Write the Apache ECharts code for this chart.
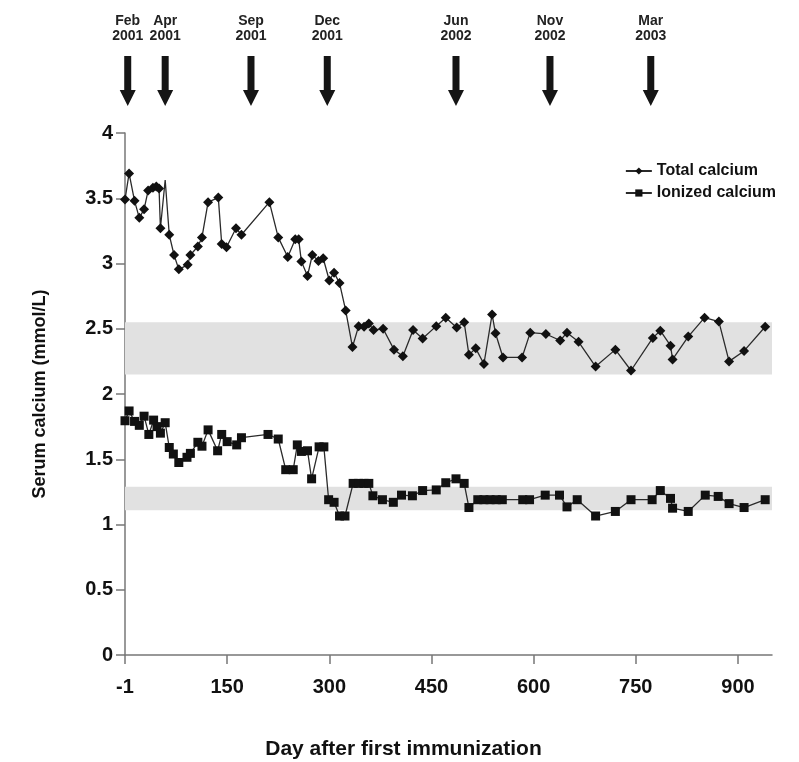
<!DOCTYPE html>
<html><head><meta charset="utf-8">
<script src="https://cdn.jsdelivr.net/npm/echarts@6/dist/echarts.min.js"></script>
<style>html,body{margin:0;padding:0;background:#fff}#c{width:799px;height:762px}</style>
</head><body><div id="c"></div>
<script>
// Total calcium (mmol/L)
const totalDays = [0,6,14,21,28,34,41,46,50,52,59,65,72,79,92,96,107,113,122,137,142,149,163,171,212,225,239,250,255,259,268,275,284,291,300,307,315,324,334,343,351,358,365,379,395,408,423,437,457,471,487,498,505,515,527,539,544,555,583,595,618,639,649,666,691,720,743,775,786,801,804,827,851,872,887,909,940];
const totalValues = [3.49,3.69,3.48,3.35,3.415,3.56,3.58,3.59,3.575,3.27,3.64,3.22,3.065,2.955,2.99,3.065,3.13,3.2,3.47,3.505,3.15,3.125,3.27,3.22,3.47,3.2,3.05,3.185,3.185,3.015,2.905,3.065,3.02,3.04,2.87,2.93,2.85,2.64,2.36,2.52,2.515,2.54,2.49,2.50,2.34,2.29,2.49,2.425,2.52,2.585,2.51,2.55,2.30,2.35,2.23,2.61,2.465,2.28,2.28,2.47,2.46,2.41,2.47,2.40,2.21,2.34,2.18,2.43,2.485,2.37,2.265,2.44,2.585,2.555,2.25,2.33,2.515];
const totalNoMarkerDays = [59];
// Ionized calcium (mmol/L)
const ionDays = [0,6,14,21,28,35,42,47,52,59,65,71,79,91,96,107,113,122,136,142,150,164,171,210,225,236,247,253,259,268,274,285,292,299,307,315,323,335,343,351,358,364,378,394,406,422,437,457,471,486,498,505,518,527,536,545,554,584,594,617,638,649,664,691,720,743,774,786,801,804,827,852,871,887,909,940];
const ionValues = [1.795,1.87,1.79,1.76,1.83,1.69,1.80,1.75,1.70,1.78,1.59,1.54,1.475,1.515,1.545,1.63,1.60,1.725,1.565,1.69,1.635,1.61,1.665,1.69,1.655,1.42,1.42,1.61,1.56,1.565,1.35,1.595,1.595,1.19,1.17,1.065,1.065,1.315,1.315,1.315,1.315,1.22,1.19,1.17,1.225,1.22,1.26,1.265,1.32,1.35,1.315,1.13,1.19,1.19,1.19,1.19,1.19,1.19,1.19,1.225,1.225,1.135,1.19,1.065,1.10,1.19,1.19,1.26,1.20,1.125,1.10,1.225,1.215,1.16,1.13,1.19];
// Normal ranges
const totalRange = [2.15, 2.55];
const ionRange = [1.11, 1.29];
// Immunization markers
const arrowDays = [4, 59, 185, 297, 486, 624, 772];
const arrowLabels = ['Feb\n2001','Apr\n2001','Sep\n2001','Dec\n2001','Jun\n2002','Nov\n2002','Mar\n2003'];
// Axis ticks
const xMin = 0, xMax = 950;
const xTicks = [0, 150, 300, 450, 600, 750, 900];
const xTickLabels = ['-1', '150', '300', '450', '600', '750', '900'];
const yTicks = [0, 0.5, 1, 1.5, 2, 2.5, 3, 3.5, 4];

const FONT = "'Liberation Sans', Arial, sans-serif";
const chart = echarts.init(document.getElementById('c'), null, {renderer: 'canvas'});

const totalData = totalDays.map((d, i) => totalNoMarkerDays.includes(d)
  ? {value: [d, totalValues[i]], symbolSize: 0}
  : [d, totalValues[i]]);
const ionData = ionDays.map((d, i) => [d, ionValues[i]]);
const arrowData = arrowDays.map((d, i) => ({value: [d, 0.5], label: {formatter: arrowLabels[i]}}));

chart.setOption({
  backgroundColor: '#fff',
  animation: false,
  grid: [
    {left: 125, right: 27, top: 133, bottom: 107, containLabel: false, outerBoundsMode: 'none'},
    {left: 125, right: 27, top: 56, height: 50, containLabel: false, outerBoundsMode: 'none'}
  ],
  xAxis: [{
    type: 'value', min: xMin, max: xMax, interval: 150,
    gridIndex: 0,
    name: 'Day after first immunization',
    nameLocation: 'middle', nameGap: 84,
    nameTextStyle: {fontFamily: FONT, fontWeight: 'bold', fontSize: 21, color: '#111', padding: [0, 90, 0, 0]},
    axisLine: {show: true, onZero: false, lineStyle: {color: '#777', width: 1.5}},
    axisTick: {show: true, length: 9, customValues: xTicks, lineStyle: {color: '#777', width: 1.5}},
    axisLabel: {fontFamily: FONT, fontWeight: 'bold', fontSize: 20, color: '#111', margin: 22,
      customValues: xTicks,
      formatter: v => xTickLabels[xTicks.indexOf(v)] ?? ''},
    splitLine: {show: false}
  }, {
    type: 'value', min: xMin, max: xMax, gridIndex: 1, show: false
  }],
  yAxis: [{
    type: 'value', min: yTicks[0], max: yTicks[yTicks.length - 1], interval: 0.5,
    gridIndex: 0,
    name: 'Serum calcium (mmol/L)',
    nameLocation: 'middle', nameGap: 76,
    nameTextStyle: {fontFamily: FONT, fontWeight: 'bold', fontSize: 18, color: '#111'},
    axisLine: {show: true, lineStyle: {color: '#777', width: 1.5}},
    axisTick: {show: true, length: 9, lineStyle: {color: '#777', width: 1.5}},
    axisLabel: {fontFamily: FONT, fontWeight: 'bold', fontSize: 20, color: '#111', margin: 12},
    splitLine: {show: false}
  }, {
    type: 'value', min: 0, max: 1, gridIndex: 1, show: false
  }],
  legend: {
    orient: 'vertical', right: 18, top: 158, itemGap: 6,
    itemWidth: 26, itemHeight: 9,
    textStyle: {fontFamily: FONT, fontWeight: 'bold', fontSize: 16, color: '#111'},
    data: ['Total calcium', 'Ionized calcium']
  },
  series: [
    {
      name: 'Total calcium', type: 'line', xAxisIndex: 0, yAxisIndex: 0,
      data: totalData, symbol: 'diamond', symbolSize: 10,
      lineStyle: {color: '#2a2a2a', width: 1.3},
      itemStyle: {color: '#111'},
      markArea: {silent: true, itemStyle: {color: '#e1e1e1'},
        data: [[{yAxis: totalRange[0]}, {yAxis: totalRange[1]}]]},
      z: 3
    },
    {
      name: 'Ionized calcium', type: 'line', xAxisIndex: 0, yAxisIndex: 0,
      data: ionData, symbol: 'rect', symbolSize: 9,
      lineStyle: {color: '#2a2a2a', width: 1.3},
      itemStyle: {color: '#111'},
      markArea: {silent: true, itemStyle: {color: '#e1e1e1'},
        data: [[{yAxis: ionRange[0]}, {yAxis: ionRange[1]}]]},
      z: 3
    },
    {
      name: 'arrows', type: 'scatter', xAxisIndex: 1, yAxisIndex: 1,
      data: arrowData,
      symbol: 'path://M4.5,0 L11.5,0 L11.5,34 L16,34 L8,50 L0,34 L4.5,34 Z',
      symbolSize: [16, 50], symbolKeepAspect: false,
      itemStyle: {color: '#151515', opacity: 1},
      label: {show: true, position: 'top', distance: 12,
        fontFamily: FONT, fontWeight: 'bold', fontSize: 14, lineHeight: 15, color: '#222', align: 'center'},
      silent: true
    }
  ]
});
</script>
</body></html>
